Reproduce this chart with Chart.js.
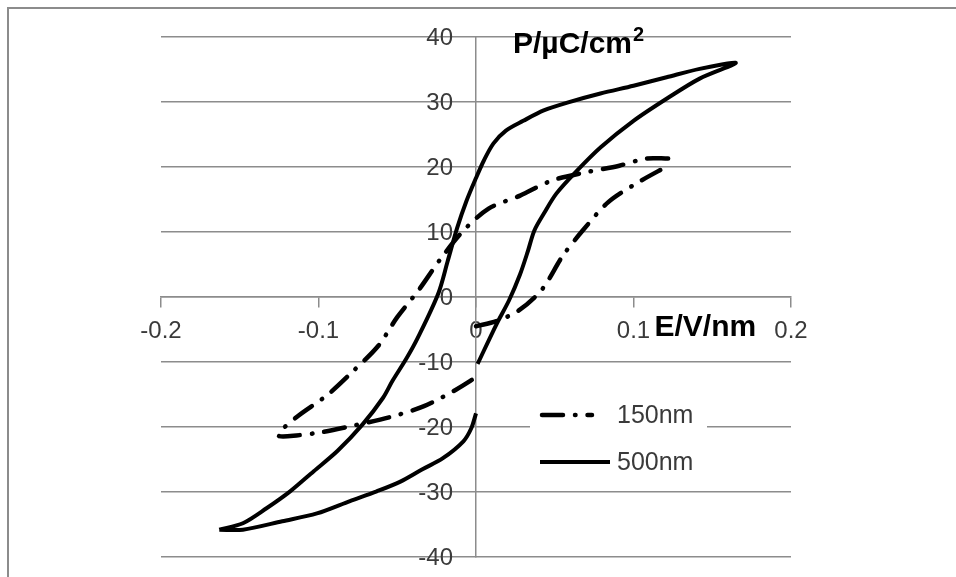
<!DOCTYPE html>
<html>
<head>
<meta charset="utf-8">
<script src="https://cdn.jsdelivr.net/npm/chart.js@4.4.1/dist/chart.umd.min.js"></script>
<style>
    body { margin: 0; background: #fff; }
    #wrap { position: relative; width: 956px; height: 577px; }
    #frame { position: absolute; left: 7px; top: 7px; right: -5px; bottom: -5px;
             border-left: 2px solid #8c8c8c; border-top: 2px solid #8c8c8c; pointer-events: none; }
</style>
</head>
<body>
<div id="wrap">
    <canvas id="loopChart" width="956" height="577"></canvas>
    <div id="frame"></div>
</div>
<script>
// 500nm loop: lower branch (left tip -> right tip), then upper branch back
const e500 = [-0.163, -0.148, -0.123, -0.101, -0.080, -0.063, -0.048, -0.034, -0.021, -0.008, -0.003, 0.000, 0.000,
              0.001, 0.013, 0.021, 0.028, 0.033, 0.037, 0.043, 0.051, 0.064, 0.079, 0.100, 0.121, 0.142, 0.165,
              0.142, 0.121, 0.100, 0.079, 0.058, 0.043, 0.030, 0.019, 0.011, 0.005, 0.000, -0.006, -0.012,
              -0.018, -0.024, -0.037, -0.044, -0.053, -0.059, -0.072, -0.088, -0.103, -0.118, -0.133, -0.148, -0.163];
const p500 = [-35.8, -35.8, -34.5, -33.3, -31.4, -29.9, -28.4, -26.5, -24.8, -22.2, -20.2, -17.9, null,
              -10.3, -4.2, -0.5, 3.5, 7.1, 10.2, 12.8, 15.9, 19.4, 23.0, 27.1, 30.5, 33.6, 36.0,
              35.1, 33.8, 32.5, 31.3, 29.9, 28.7, 27.1, 25.6, 23.6, 21.0, 18.3, 14.8, 10.6,
              5.5, 0.5, -6.3, -9.4, -12.9, -15.5, -19.6, -23.7, -26.8, -29.9, -32.5, -34.8, -35.8];

// 150nm loop: upper branch (right tip -> left tip), then lower branch back
const e150 = [0.122, 0.108, 0.091, 0.070, 0.048, 0.028, 0.008, -0.008, -0.023, -0.036,
              -0.050, -0.062, -0.078, -0.094, -0.113, -0.124, -0.125, -0.114, -0.098, -0.078,
              -0.055, -0.033, -0.013, 0.001, 0.001,
              0.000, 0.013, 0.027, 0.042, 0.055, 0.068, 0.084, 0.102, 0.122];
const p150 = [21.3, 21.3, 20.2, 19.2, 17.9, 15.6, 13.6, 10.2, 5.7, 1.2,
              -3.1, -7.5, -11.4, -15.0, -18.3, -20.6, -21.4, -21.3, -20.8, -19.8,
              -18.5, -16.8, -14.3, -12.2, null,
              -4.5, -3.7, -2.1, 1.2, 6.3, 10.3, 14.6, 17.5, 20.2];

const seriesNames = ["150nm", "500nm"];
const xTicks = [-0.2, -0.1, 0, 0.1, 0.2];
const yTicks = [-40, -30, -20, -10, 0, 10, 20, 30, 40];

const gridColor = '#8c8c8c';
const textColor = '#3a3a3a';
const fontFam = '"Liberation Sans", Arial, sans-serif';
const dashDot = [21, 12, 0.5, 12];

function toPoints(xs, ys) {
    return xs.map((x, i) => ({ x: ys[i] === null ? null : x, y: ys[i] }));
}

// y tick labels (left of the centred axis), axis titles and the boxed legend
const annotate = {
    id: 'annotate',
    afterDraw(chart) {
        const ctx = chart.ctx;
        const xs = chart.scales.x, ys = chart.scales.y;
        ctx.save();

        ctx.fillStyle = textColor;
        ctx.font = '24px ' + fontFam;
        ctx.textAlign = 'right';
        ctx.textBaseline = 'middle';
        const x0 = xs.getPixelForValue(0);
        ys.ticks.forEach(t => ctx.fillText(String(t.value), x0 - 23, ys.getPixelForValue(t.value) + 1));

        ctx.fillStyle = '#000';
        ctx.textBaseline = 'alphabetic';
        ctx.textAlign = 'left';
        ctx.font = 'bold 30px ' + fontFam;
        const px = xs.getPixelForValue(0.0235), py = ys.getPixelForValue(37.5);
        ctx.fillText('P/µC/cm', px, py);
        const w = ctx.measureText('P/µC/cm').width;
        ctx.font = 'bold 20px ' + fontFam;
        ctx.fillText('2', px + w + 1, py - 12);
        ctx.font = 'bold 30px ' + fontFam;
        ctx.fillText('E/V/nm', xs.getPixelForValue(0.1133), ys.getPixelForValue(-6.0));

        // legend
        ctx.fillStyle = '#fff';
        ctx.fillRect(530, 396, 177, 80);
        ctx.strokeStyle = '#000';
        ctx.lineCap = 'round';
        ctx.lineWidth = 4.5;
        ctx.setLineDash(dashDot);
        ctx.beginPath(); ctx.moveTo(542, 415); ctx.lineTo(592, 415); ctx.stroke();
        ctx.setLineDash([]);
        ctx.lineWidth = 4;
        ctx.lineCap = 'butt';
        ctx.beginPath(); ctx.moveTo(540, 462); ctx.lineTo(610, 462); ctx.stroke();
        ctx.fillStyle = textColor;
        ctx.font = '25px ' + fontFam;
        ctx.textBaseline = 'middle';
        ctx.fillText(seriesNames[0], 617, 416);
        ctx.fillText(seriesNames[1], 617, 463);
        ctx.restore();
    }
};

const ctx = document.getElementById('loopChart').getContext('2d');
new Chart(ctx, {
    type: 'scatter',
    data: {
        datasets: [{
            label: seriesNames[0],
            data: toPoints(e150, p150),
            showLine: true,
            borderColor: '#000',
            borderWidth: 4.5,
            borderDash: dashDot,
            borderCapStyle: 'round',
            tension: 0.3,
            pointRadius: 0,
            spanGaps: false
        }, {
            label: seriesNames[1],
            data: toPoints(e500, p500),
            showLine: true,
            borderColor: '#000',
            borderWidth: 4,
            tension: 0.3,
            pointRadius: 0,
            spanGaps: false
        }]
    },
    options: {
        responsive: false,
        animation: false,
        devicePixelRatio: 1,
        layout: { padding: { left: 161, right: 165, top: 37, bottom: 20 } },
        plugins: { legend: { display: false }, tooltip: { enabled: false } },
        scales: {
            x: {
                type: 'linear',
                position: { y: 0 },
                min: -0.2, max: 0.2,
                afterBuildTicks: s => { s.ticks = xTicks.map(v => ({ value: v })); },
                ticks: {
                    color: textColor,
                    padding: 10,
                    maxRotation: 0,
                    font: { family: fontFam, size: 24 },
                    callback: v => String(Math.round(v * 10) / 10)
                },
                grid: { drawOnChartArea: false, drawTicks: true, tickLength: 10, color: gridColor, lineWidth: 1.5 },
                border: { color: gridColor, width: 1.5 }
            },
            y: {
                type: 'linear',
                position: { x: 0 },
                min: -40, max: 40,
                afterBuildTicks: s => { s.ticks = yTicks.map(v => ({ value: v })); },
                ticks: { display: false },
                grid: { drawTicks: false, color: gridColor, lineWidth: 1.5 },
                border: { color: gridColor, width: 1.5 }
            }
        }
    },
    plugins: [annotate]
});
</script>
</body>
</html>
